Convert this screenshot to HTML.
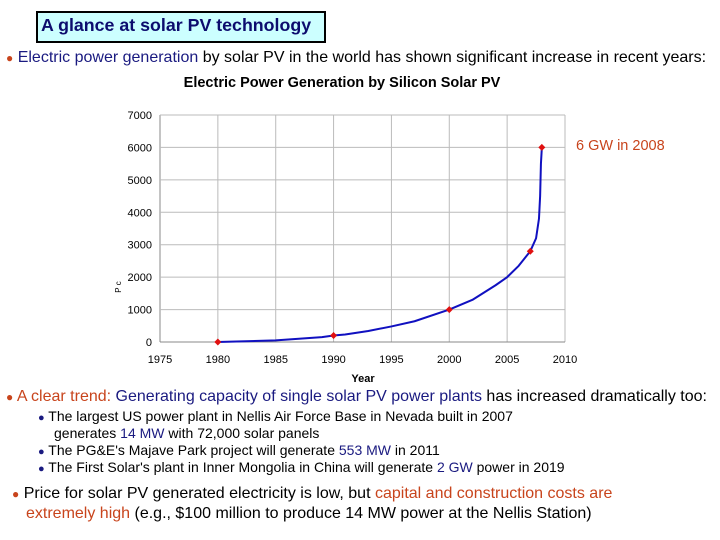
<!DOCTYPE html>
<html><head><meta charset="utf-8">
<style>
body{margin:0;width:720px;height:540px;background:#fff;position:relative;overflow:hidden;font-family:"Liberation Sans",sans-serif;}
.t{position:absolute;white-space:nowrap;color:#000;}
.b{color:#1a1a80}.r{color:#c8441c}
.dot{color:#c8441c}
.sd{color:#1a1a80;font-size:11px}
</style></head><body>
<div style="position:absolute;left:36px;top:11px;width:286px;height:28px;background:#ccffff;border:2px solid #000;"></div>
<div class="t" style="left:41px;top:15px;font-size:17.8px;font-weight:bold;color:#0c0c6e;">A glance at solar PV technology</div>
<div class="t" style="left:6px;top:49px;font-size:16px;"><span class="dot" style="font-size:12px">●</span> <span class="b">Electric power generation</span> by solar PV in the world has shown significant increase in recent years:</div>

<svg id="chart" width="720" height="540" style="position:absolute;left:0;top:0" font-family="Liberation Sans, sans-serif"></svg>

<div class="t" style="left:6px;top:388px;font-size:16px;"><span class="dot" style="font-size:12px">●</span> <span class="r">A clear trend:</span> <span class="b">Generating capacity of single solar PV power plants</span> has increased dramatically too:</div>
<div class="t" style="left:38px;top:408px;font-size:14px;"><span class="sd">●</span> The largest US power plant in Nellis Air Force Base in Nevada built in 2007</div>
<div class="t" style="left:54px;top:425px;font-size:14px;">generates <span class="b">14 MW</span> with 72,000 solar panels</div>
<div class="t" style="left:38px;top:442px;font-size:14px;"><span class="sd">●</span> The PG&amp;E's Majave Park project will generate <span class="b">553 MW</span> in 2011</div>
<div class="t" style="left:38px;top:459px;font-size:14px;"><span class="sd">●</span> The First Solar's plant in Inner Mongolia in China will generate <span class="b">2 GW</span> power in 2019</div>
<div class="t" style="left:12px;top:484px;font-size:16px;line-height:20px;"><span class="dot" style="font-size:12px">●</span> Price for solar PV generated electricity is low, but <span class="r">capital and construction costs are</span><br><span style="padding-left:14px" class="r">extremely high</span> (e.g., $100 million to produce 14 MW power at the Nellis Station)</div>

<script>
const years=[1980,1985,1989,1990,1991,1993,1995,1997,2000,2002,2004,2005,2006,2007,2007.5,2007.75,2007.85,2007.92,2008];
const power=[0,50,150,200,230,340,480,640,1000,1300,1750,2000,2350,2800,3200,3800,4500,5500,6000];
const markerYears=[1980,1990,2000,2007,2008];
const markerPower=[0,200,1000,2800,6000];
const xTicks=[1975,1980,1985,1990,1995,2000,2005,2010];
const yTicks=[0,1000,2000,3000,4000,5000,6000,7000];
const NS="http://www.w3.org/2000/svg";
const svg=document.getElementById('chart');
const X0=160,X1=565,Y0=342,Y1=115;
const xs=v=>X0+(v-1975)/(2010-1975)*(X1-X0);
const ys=v=>Y0-(v/7000)*(Y0-Y1);
function mk(tag,attrs,txt){const e=document.createElementNS(NS,tag);for(const k in attrs)e.setAttribute(k,attrs[k]);if(txt!==undefined)e.textContent=txt;svg.appendChild(e);return e;}
xTicks.forEach(t=>{const l=mk('line',{x1:xs(t),x2:xs(t),y1:Y1,y2:Y0,stroke:t===1975?'#888':'#bbb','stroke-width':1});


const tx=mk('text',{x:xs(t),y:Y0+21,'font-size':11,'text-anchor':'middle',fill:'#000'},String(t));

});
yTicks.forEach(t=>{const l=mk('line',{x1:X0,x2:X1,y1:ys(t),y2:ys(t),stroke:t===0?'#888':'#bbb','stroke-width':1});


const tx=mk('text',{x:X0-8,y:ys(t)+4,'font-size':11,'text-anchor':'end',fill:'#000'},String(t));

});
const ct=mk('text',{x:342,y:87,'font-size':14.5,'font-weight':'bold','text-anchor':'middle'},'Electric Power Generation by Silicon Solar PV');


const xt=mk('text',{x:363,y:382,'font-size':11,'font-weight':'bold','text-anchor':'middle'},'Year');


const yt=mk('text',{x:121,y:287,'font-size':8,'text-anchor':'middle',transform:'rotate(-90 121 287)'},'P c');


const ln=mk('polyline',{points:years.map((y,i)=>xs(y)+','+ys(power[i])).join(' '),fill:'none',stroke:'#1010c0','stroke-width':2,'stroke-linejoin':'round'});


markerYears.forEach((y,i)=>{const cx=xs(y),cy=ys(markerPower[i]);
const m=mk('polygon',{points:`${cx},${cy-3.5} ${cx+3.5},${cy} ${cx},${cy+3.5} ${cx-3.5},${cy}`,fill:'#e01010'});

});
const an=mk('text',{x:576,y:150,'font-size':14.5,fill:'#c8441c'},'6 GW in 2008');


</script>
</body></html>
